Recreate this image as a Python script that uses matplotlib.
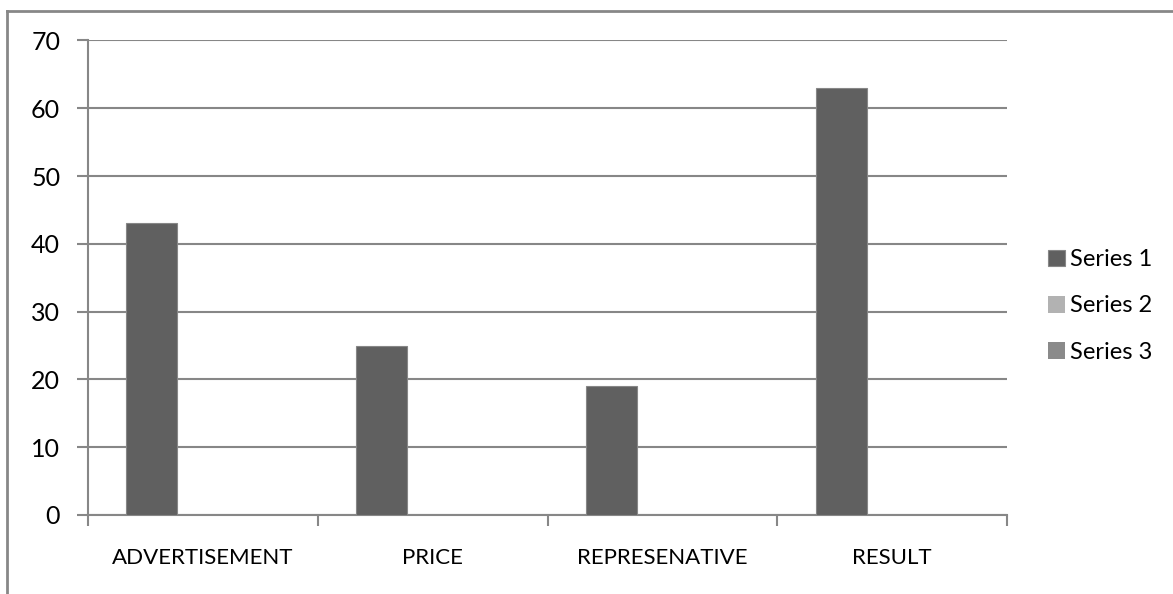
import numpy as np
import matplotlib.pyplot as plt
from matplotlib.lines import Line2D

categories = ['ADVERTISEMENT', 'PRICE', 'REPRESENATIVE', 'RESULT']
series_names = ['Series 1', 'Series 2', 'Series 3']
series_1 = [43, 25, 19, 63]
series_2 = [0, 0, 0, 0]
series_3 = [0, 0, 0, 0]
y_ticks = [0, 10, 20, 30, 40, 50, 60, 70]

colores = ['#606060', '#b2b2b2', '#8a8a8a']
gris = '#878787'

plt.rcParams['font.family'] = ['Lato', 'DejaVu Sans']

fig = plt.figure(figsize=(11.73, 5.94), dpi=100)
ax = fig.add_axes([88 / 1173, 79 / 594, 919 / 1173, 474.6 / 594])

x = np.arange(len(categories))
w = 1 / 4.5
datos = [series_1, series_2, series_3]
for i, valores in enumerate(datos):
    lw = 0.8 if i == 0 else 0
    ax.bar(x + (i - 1) * w, valores, width=w, color=colores[i],
           edgecolor=gris, linewidth=lw, label=series_names[i], zorder=3)

ax.set_xlim(-0.5, len(categories) - 0.5)
ax.set_ylim(0, 70)
ax.set_yticks(y_ticks)
ax.yaxis.grid(True, color=gris, linewidth=1.5, zorder=0)
ax.set_axisbelow(True)

ax.set_xticks(x)
ax.set_xticklabels(categories)
ax.set_xticks(np.arange(len(categories) + 1) - 0.5, minor=True)
ax.tick_params(axis='x', which='major', length=0, pad=24, labelsize=16)
ax.tick_params(axis='x', which='minor', length=8, width=1.5, color=gris)
ax.tick_params(axis='y', length=8, width=1.5, color=gris, pad=12, labelsize=18)

for lado in ['top', 'right']:
    ax.spines[lado].set_visible(False)
for lado in ['left', 'bottom']:
    ax.spines[lado].set_color(gris)
    ax.spines[lado].set_linewidth(1.5)

ax.legend(loc='center left', bbox_to_anchor=(1048 / 1173, 1 - 306 / 594),
          bbox_transform=fig.transFigure, frameon=False, fontsize=17,
          handlelength=0.7, handleheight=0.7, handletextpad=0.25,
          labelspacing=1.07, borderaxespad=0, borderpad=0)

# marco del grafico
fig.add_artist(Line2D([7 / 1173, 7 / 1173], [0, 1 - 11 / 594], color=gris, linewidth=2))
fig.add_artist(Line2D([7 / 1173, 1], [1 - 11 / 594, 1 - 11 / 594], color=gris, linewidth=2))

fig.savefig('out.png', dpi=100)
